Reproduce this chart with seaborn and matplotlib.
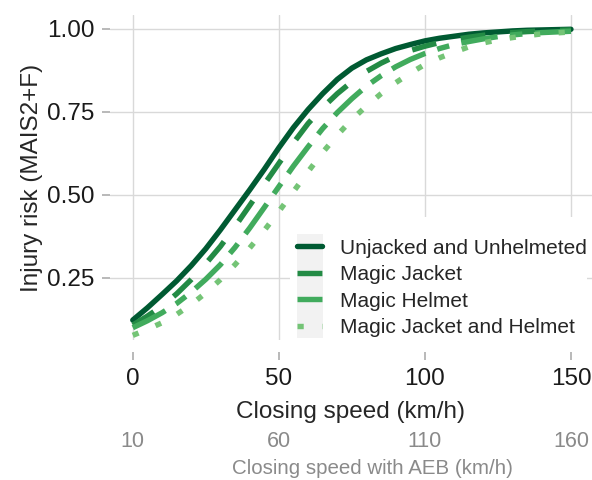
import seaborn as sns
import numpy as np
import pandas as pd
import matplotlib
matplotlib.use("Agg")
import matplotlib.pyplot as plt
from matplotlib.patches import Rectangle

sns.set_style(style="white")
plt.rcParams['font.family'] = ['Liberation Sans', 'DejaVu Sans']

# values (every 5 km/h)
speed = list(range(0, 151, 5))
unjacked = [0.123, 0.160, 0.200, 0.241, 0.287, 0.338, 0.395, 0.455, 0.515, 0.577, 0.642, 0.703,
            0.757, 0.805, 0.848, 0.882, 0.907, 0.925, 0.941, 0.953, 0.964, 0.972, 0.978, 0.984,
            0.988, 0.991, 0.994, 0.996, 0.997, 0.998, 0.999]
jacket = [0.108, 0.135, 0.165, 0.202, 0.245, 0.293, 0.345, 0.405, 0.468, 0.532, 0.595, 0.657,
          0.715, 0.763, 0.805, 0.841, 0.872, 0.897, 0.918, 0.935, 0.948, 0.959, 0.968, 0.975,
          0.981, 0.985, 0.989, 0.992, 0.994, 0.996, 0.997]
helmet = [0.100, 0.121, 0.145, 0.173, 0.207, 0.246, 0.290, 0.342, 0.400, 0.462, 0.525, 0.587,
          0.645, 0.700, 0.748, 0.790, 0.828, 0.859, 0.886, 0.908, 0.926, 0.941, 0.953, 0.962,
          0.970, 0.977, 0.982, 0.986, 0.989, 0.991, 0.993]
both = [0.077, 0.095, 0.115, 0.140, 0.170, 0.205, 0.245, 0.290, 0.340, 0.393, 0.450, 0.510,
        0.570, 0.628, 0.680, 0.727, 0.768, 0.805, 0.838, 0.867, 0.893, 0.913, 0.930, 0.946,
        0.958, 0.967, 0.974, 0.980, 0.985, 0.988, 0.991]

groups = ["Unjacked and Unhelmeted", "Magic Jacket", "Magic Helmet", "Magic Jacket and Helmet"]
colors = ["#005a32", "#238b45", "#41ab5d", "#74c476"]
aeb_ticks = [10, 60, 110, 160]

dfs = []
for name, vals in zip(groups, [unjacked, jacket, helmet, both]):
  dfs.append(pd.DataFrame({'speed': speed, 'risk': vals, 'group': name}))
df = pd.concat(dfs, ignore_index=True)

dash_map = {
  groups[0]: "",
  groups[1]: (4.6, 4.6),
  groups[2]: (6.8, 2.3, 2.3, 2.3),
  groups[3]: (1.15, 3.4),
}

fig = plt.figure(figsize=(5.92, 4.8), dpi=100)
ax = fig.add_axes([110/592, 140/480, 482/592, 325/480])

sns.lineplot(data=df, x='speed', y='risk', hue='group', style='group',
             hue_order=groups, style_order=groups, palette=colors,
             dashes=dash_map, linewidth=3.9, legend=False, ax=ax)

ax.set_xlim(-7.8, 157.2)
ax.set_ylim(0.063, 1.042)
ax.set_xticks([0, 50, 100, 150])
ax.set_yticks([0.25, 0.50, 0.75, 1.00])
ax.set_yticklabels(["0.25", "0.50", "0.75", "1.00"])
ax.grid(True, color="#d9d9d9", linewidth=1.0)
ax.set_axisbelow(True)
for s in ax.spines.values():
  s.set_visible(False)
ax.spines['bottom'].set_position(('outward', 8.6))

ax.tick_params(axis='both', which='major', length=5.8, width=1.3, color="#b3b3b3",
               labelsize=17.5, labelcolor="#1a1a1a", pad=5.5, bottom=True, left=True)
ax.set_xlabel("Closing speed (km/h)", fontsize=17.5, labelpad=8.5)
ax.set_ylabel("Injury risk (MAIS2+F)", fontsize=17.5, labelpad=3)

# second axis: speed with AEB
sec = ax.secondary_xaxis(-0.27, functions=(lambda v: v + 10, lambda v: v - 10))
sec.set_xticks(aeb_ticks)
sec.tick_params(length=0, labelsize=15.5, labelcolor="#8a8a8a", pad=2)
sec.spines['bottom'].set_visible(False)
sec.set_xlabel("Closing speed with AEB (km/h)", fontsize=14.8, color="#8a8a8a", labelpad=5.5)
sec.xaxis.label.set_x(0.5436)

# legend box (white) with grey key column
ax.add_patch(Rectangle((0.373, 0.0), 0.617, 0.378, transform=ax.transAxes,
                       facecolor="white", edgecolor="none", zorder=1.5))
ax.add_patch(Rectangle((0.388, 0.006), 0.054, 0.32, transform=ax.transAxes,
                       facecolor="#f2f2f2", edgecolor="none", zorder=1.6))
leg = ax.legend(ax.lines[:4], groups, loc='upper left', bbox_to_anchor=(0.388, 0.312),
                frameon=False, fontsize=15, handlelength=1.2, handletextpad=0.87,
                labelspacing=0.36, borderpad=0, borderaxespad=0)
leg.set_zorder(3)

fig.savefig("out.png", dpi=100)
